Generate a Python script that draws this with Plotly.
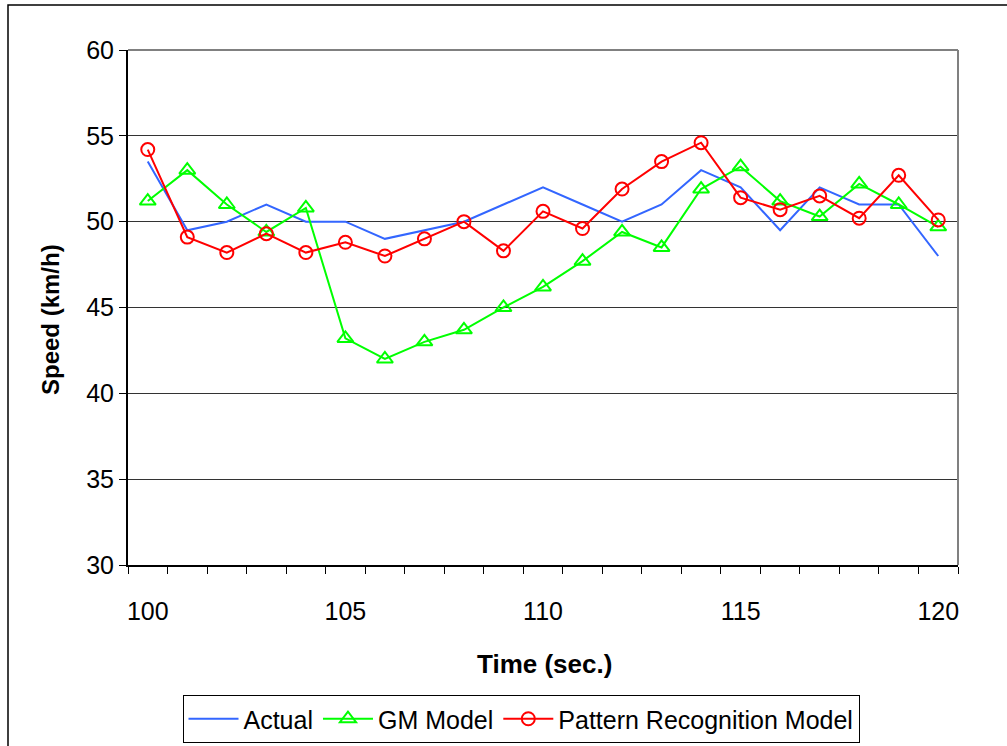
import plotly.graph_objects as go

time = list(range(100, 121))
actual = [53.5, 49.5, 50.0, 51.0, 50.0, 50.0, 49.0, 49.5, 50.0, 51.0, 52.0,
          51.0, 50.0, 51.0, 53.0, 52.0, 49.5, 52.0, 51.0, 51.0, 48.0]
gm_model = [51.2, 53.0, 51.0, 49.4, 50.8, 43.2, 42.0, 43.0, 43.7, 45.0, 46.2,
            47.7, 49.4, 48.5, 51.9, 53.2, 51.2, 50.3, 52.2, 51.0, 49.7]
pr_model = [54.2, 49.1, 48.2, 49.3, 48.2, 48.8, 48.0, 49.0, 50.0, 48.3, 50.6,
            49.6, 51.9, 53.5, 54.6, 51.4, 50.7, 51.5, 50.2, 52.7, 50.1]
x_labels = [100, 105, 110, 115, 120]
y_ticks = [30, 35, 40, 45, 50, 55, 60]

FONT = "Liberation Sans, Arial, sans-serif"
W, H = 1007, 746
L, R, T, B = 128, 958, 50, 565

def px_x(p):
    return (p - L) / (R - L)

def px_y(p):
    return (B - p) / (B - T)

fig = go.Figure()
fig.add_trace(go.Scatter(x=time, y=actual, name="Actual", mode="lines",
                         line=dict(color="#3366FF", width=2)))
fig.add_trace(go.Scatter(x=time, y=gm_model, name="GM Model", mode="lines+markers",
                         line=dict(color="#00FF00", width=2),
                         marker=dict(symbol="triangle-up-open", size=14,
                                     color="#00FF00", line=dict(width=2, color="#00FF00"))))
fig.add_trace(go.Scatter(x=time, y=pr_model, name="Pattern Recognition Model",
                         mode="lines+markers",
                         line=dict(color="#FF0000", width=2),
                         marker=dict(symbol="circle-open", size=13,
                                     color="#FF0000", line=dict(width=2, color="#FF0000"))))

fig.update_layout(
    width=W, height=H,
    margin=dict(l=L, r=W - R, t=T, b=H - B, pad=0, autoexpand=False),
    paper_bgcolor="white", plot_bgcolor="white",
    font=dict(family=FONT, size=25, color="black"),
    showlegend=True,
    legend=dict(orientation="h", x=px_x(521), xanchor="center",
                y=px_y(695), yanchor="top",
                bordercolor="black", borderwidth=1, bgcolor="white",
                font=dict(size=25, family=FONT), itemwidth=50,
                tracegroupgap=0),
    xaxis=dict(range=[99.5, 120.5], tickmode="array", tickvals=x_labels,
               ticktext=[str(v) for v in x_labels],
               ticks="outside", ticklen=23, tickcolor="rgba(0,0,0,0)",
               showgrid=False, zeroline=False,
               showline=True, linecolor="black", linewidth=2,
               tickfont=dict(size=25, family=FONT),
               minor=dict(tickmode="array",
                          tickvals=[v + 0.5 for v in range(99, 121)],
                          ticks="outside", ticklen=7, tickcolor="black",
                          tickwidth=1, showgrid=False)),
    yaxis=dict(range=[30, 60], tickmode="array", tickvals=y_ticks,
               ticks="outside", ticklen=7, tickcolor="black", tickwidth=1,
               showgrid=True, gridcolor="#333333", gridwidth=1,
               zeroline=False, showline=True, linecolor="black", linewidth=2,
               tickfont=dict(size=25, family=FONT)),
    annotations=[
        dict(text="<b>Speed (km/h)</b>", xref="paper", yref="paper",
             x=px_x(50), y=px_y(320), textangle=-90, showarrow=False,
             xanchor="center", yanchor="middle",
             font=dict(size=24, family=FONT)),
        dict(text="<b>Time (sec.)</b>", xref="paper", yref="paper",
             x=px_x(544), y=px_y(664), showarrow=False,
             xanchor="center", yanchor="middle",
             font=dict(size=26, family=FONT)),
    ],
    shapes=[
        dict(type="line", xref="paper", yref="paper", x0=0, x1=1, y0=1, y1=1,
             line=dict(color="#808080", width=2), layer="above"),
        dict(type="line", xref="paper", yref="paper", x0=1, x1=1, y0=0, y1=1,
             line=dict(color="#808080", width=2), layer="above"),
        dict(type="rect", xref="paper", yref="paper",
             x0=px_x(8), x1=px_x(1012), y0=px_y(752), y1=px_y(5),
             line=dict(color="black", width=1.5), layer="below"),
    ],
)

fig.write_html("out.html")
